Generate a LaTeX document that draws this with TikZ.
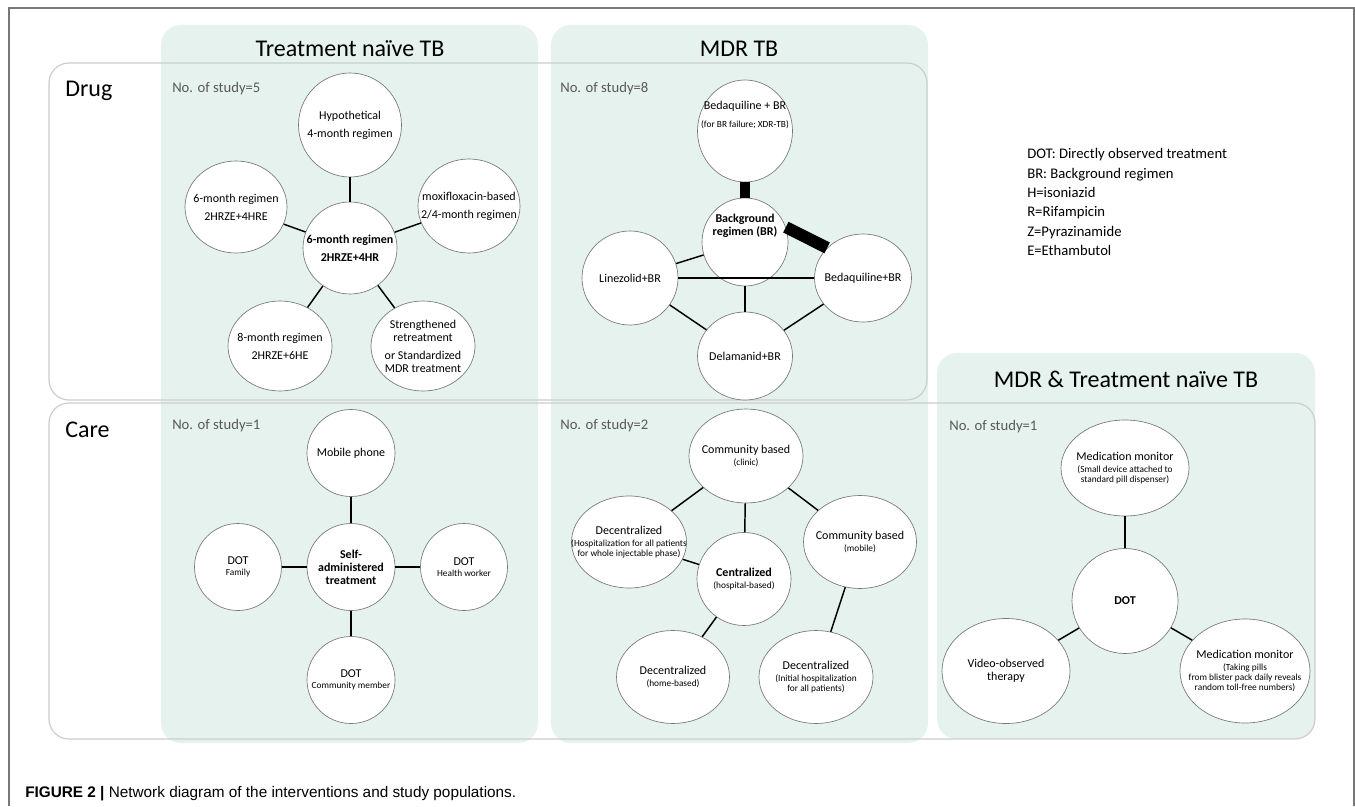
\documentclass[tikz,border=0pt]{standalone}
\usepackage{fontspec}
\setmainfont{Carlito}
\newfontfamily\capfont{Liberation Sans}
\usetikzlibrary{shapes.geometric}

\definecolor{panel}{RGB}{229,242,238}
\definecolor{boxline}{RGB}{205,205,205}
\definecolor{ringline}{RGB}{120,120,120}
\definecolor{countgray}{RGB}{89,89,89}
\newcommand\subtxt{\fontsize{7}{8}\selectfont}

\begin{document}
\begin{tikzpicture}[x=0.75pt, y=-0.75pt]
  \tikzstyle{ring}=[ellipse, draw=ringline, line width=0.5pt, fill=white, inner sep=0pt]
  \tikzstyle{wd}=[minimum width=#1*0.75pt]
  \tikzstyle{ht}=[minimum height=#1*0.75pt]
  \tikzstyle{txt}=[font=\fontsize{9}{9.75}\selectfont, align=center, inner sep=0pt]
  \tikzstyle{boldtxt}=[txt, font=\fontsize{9}{9.75}\selectfont\bfseries]
  \tikzstyle{link}=[line width=1.1pt]
  \tikzstyle{panelbox}=[fill=panel, rounded corners=15pt]
  \tikzstyle{rowbox}=[draw=boxline, line width=0.9pt, rounded corners=15pt]
  \tikzstyle{head}=[font=\fontsize{18}{20}\selectfont, anchor=base, inner sep=0pt]
  \tikzstyle{studyno}=[font=\fontsize{11}{13}\selectfont, text=countgray, anchor=base west, inner sep=0pt]
  \tikzstyle{legendtxt}=[font=\fontsize{11}{13}\selectfont, anchor=base west, inner sep=0pt]

  \useasboundingbox (0,0) rectangle (1355,806);
  \draw[ringline, line width=1.1pt] (9,806) -- (9,8) -- (1354,8) -- (1354,806);

  % population panels and rows
  \fill[panelbox] (161,25) rectangle (538,743);
  \fill[panelbox] (551,25) rectangle (928,743);
  \fill[panelbox] (937,353) rectangle (1315,739);
  \draw[rowbox] (49,63) rectangle (927,400);
  \draw[rowbox] (49,403) rectangle (1315,739);

  \node[head] (tn) at (350,57) {Treatment naïve TB};
  \node[head] (mdr) at (739,57) {MDR TB};
  \node[head] (both) at (1126,387) {MDR \& Treatment naïve TB};
  \node[head, anchor=base west] (drug) at (65,97) {Drug};
  \node[head, anchor=base west] (care) at (65,437) {Care};

  \node[studyno] (n1) at (172,93) {No. of study=5};
  \node[studyno] (n2) at (560,93) {No. of study=8};
  \node[studyno] (n3) at (172,429) {No. of study=1};
  \node[studyno] (n4) at (560,429) {No. of study=2};
  \node[studyno] (n5) at (949,430) {No. of study=1};

  \foreach \t [count=\i] in {DOT: Directly observed treatment, BR: Background regimen,
      H=isoniazid, R=Rifampicin, Z=Pyrazinamide, E=Ethambutol}
    \node[legendtxt] (leg\i) at (1027, 139.7+19.3*\i) {\t};

  % treatment naive, drug
  \node[ring, wd=94, ht=92, label={[boldtxt]center:{6-month regimen\\[3.75pt]2HRZE+4HR}}] (hrze) at (350,248) {};
  \node[ring, wd=103, ht=104, label={[txt]center:{Hypothetical\\[3.75pt]4-month regimen}}] (hypo) at (350,125) {};
  \node[ring, wd=102, ht=92, label={[txt]center:{6-month regimen\\[3.75pt]2HRZE+4HRE}}] (hrze4) at (236,207) {};
  \node[ring, wd=102, ht=94, label={[txt]center:{moxifloxacin-based\\[3.75pt]2/4-month regimen}}] (moxi) at (469,206) {};
  \node[ring, wd=104, ht=90, label={[txt]center:{8-month regimen\\[3.75pt]2HRZE+6HE}}] (hrze8) at (280,346) {};
  \node[ring, wd=104, ht=90, label={[txt]center:{Strengthened\\retreatment\\[3.75pt]or Standardized\\MDR treatment}}] (retreat) at (423,346) {};

  \foreach \n in {hypo,hrze4,moxi,hrze8,retreat}
    \draw[link] (hrze) -- (\n);

  % MDR, drug
  \node[ring, wd=95, ht=102, label={[txt, yshift=12pt]center:{Bedaquiline + BR\\[3.5pt]{\subtxt (for BR failure; XDR-TB)}}}] (bdqx) at (745,131) {};
  \node[ring, wd=86, ht=88, label={[boldtxt, yshift=12pt]center:{Background\\regimen (BR)}}] (br) at (745,242) {};
  \node[ring, wd=96, ht=94, label={[txt]center:Linezolid+BR}] (lzd) at (630,278) {};
  \node[ring, wd=97, ht=88, label={[txt]center:Bedaquiline+BR}] (bdq) at (863,278) {};
  \node[ring, wd=95, ht=88, label={[txt]center:Delamanid+BR}] (dlm) at (745,356) {};

  \draw[line width=7.5pt] (bdqx) -- (br);
  \draw[line width=9pt] (br.20) -- (bdq.140);
  \foreach \f/\t in {br/lzd,lzd/bdq,br/dlm,lzd/dlm,bdq/dlm}
    \draw[link] (\f) -- (\t);

  % treatment naive, care
  \node[ring, wd=88, ht=87, label={[boldtxt]center:{Self-\\administered\\treatment}}] (self) at (351,567) {};
  \node[ring, wd=88, ht=87, label={[txt]center:Mobile phone}] (phone) at (351,453) {};
  \node[ring, wd=87, ht=87, label={[txt]center:{DOT\\[-1pt]{\subtxt Family}}}] (family) at (238,567) {};
  \node[ring, wd=87, ht=87, label={[txt]center:{DOT\\[-1pt]{\subtxt Health worker}}}] (worker) at (464,567) {};
  \node[ring, wd=88, ht=87, label={[txt]center:{DOT\\[-1pt]{\subtxt Community member}}}] (member) at (351,680) {};

  \foreach \n in {phone,family,worker,member}
    \draw[link] (self) -- (\n);

  % MDR, care
  \node[ring, wd=114, ht=94, label={[txt]center:{Community based\\[-1pt]{\subtxt (clinic)}}}] (clinic) at (746,456) {};
  \node[ring, wd=115, ht=92, label={[txt]center:{Decentralized\\[-1pt]{\subtxt (Hospitalization for all patients}\\[-2.25pt]{\subtxt for whole injectable phase)}}}] (dhosp) at (629,542) {};
  \node[ring, wd=94, ht=93, label={[txt]center:{\textbf{Centralized}\\[-1pt]{\subtxt (hospital-based)}}}] (central) at (744,579) {};
  \node[ring, wd=113, ht=93, label={[txt]center:{Community based\\[-1pt]{\subtxt (mobile)}}}] (mobile) at (860,542) {};
  \node[ring, wd=113, ht=93, label={[txt]center:{Decentralized\\[-1pt]{\subtxt (home-based)}}}] (home) at (673,677) {};
  \node[ring, wd=114, ht=93, label={[txt]center:{Decentralized\\[-1pt]{\subtxt (Initial hospitalization}\\[-2.25pt]{\subtxt for all patients)}}}] (initial) at (816,677) {};

  \foreach \f/\t in {clinic/dhosp,clinic/central,clinic/mobile,dhosp/central,central/home,mobile/initial}
    \draw[link] (\f) -- (\t);

  % MDR and treatment naive, care
  \node[ring, wd=128, ht=96, label={[txt]center:{Medication monitor\\[-1pt]{\subtxt (Small device attached to}\\[-2.25pt]{\subtxt standard pill dispenser)}}}] (monitor) at (1125,468) {};
  \node[ring, wd=106, ht=105, label={[boldtxt]center:DOT}] (dot) at (1125,601) {};
  \node[ring, wd=128, ht=105, label={[txt]center:{Video-observed\\therapy}}] (video) at (1006,671) {};
  \node[ring, wd=130, ht=104, label={[txt]center:{Medication monitor\\[-1pt]{\subtxt (Taking pills}\\[-2.25pt]{\subtxt from blister pack daily reveals}\\[-2.25pt]{\subtxt random toll-free numbers)}}}] (blister) at (1245,671) {};

  \foreach \n in {monitor,video,blister}
    \draw[link] (dot) -- (\n);

  \node[anchor=base west, inner sep=0pt, font=\capfont\fontsize{11.5}{13}\selectfont] (caption) at (25,797)
    {\textbf{FIGURE 2 |} Network diagram of the interventions and study populations.};
\end{tikzpicture}
\end{document}
